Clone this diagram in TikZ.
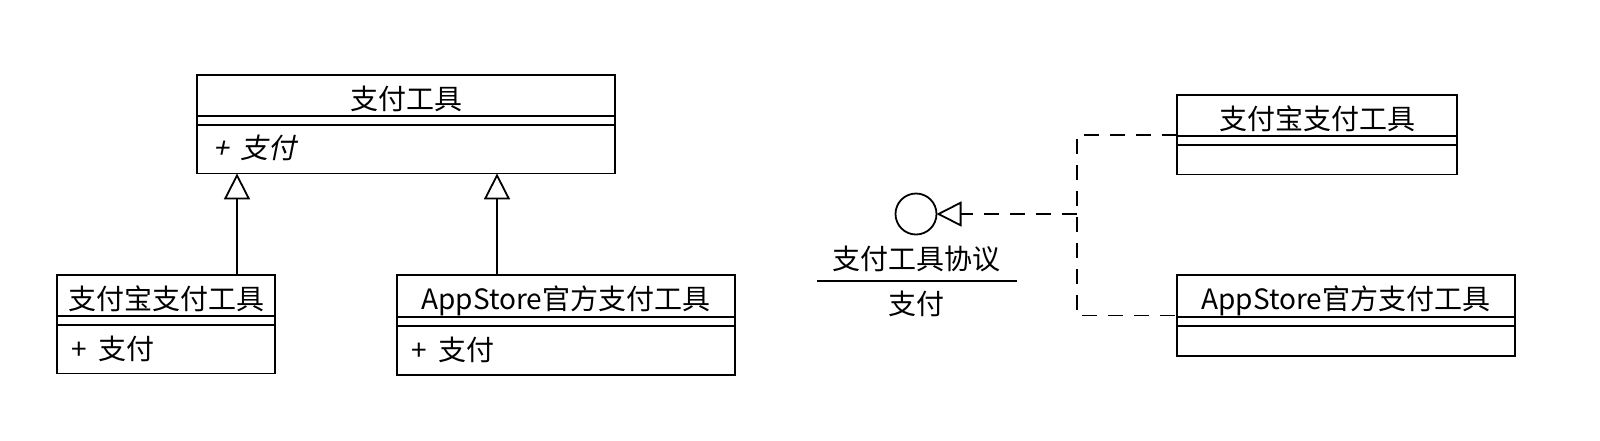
\documentclass[tikz,border=0pt]{standalone}
\usepackage{fontspec}
\newfontfamily\cjk{Noto Sans CJK SC}
\newfontfamily\cjkit[FakeSlant=0.2]{Noto Sans CJK SC}
\usepackage{tikz}
\usetikzlibrary{calc}
\usetikzlibrary{shapes}
\usetikzlibrary{arrows.meta}

\tikzset{
  umlclass/.style={draw, line width=1.8pt, rectangle split, rectangle split parts=3,
    inner sep=0pt, outer sep=0pt, anchor=north west, font=\cjk\fontsize{28}{32}\selectfont},
  inherit/.style={line width=1.8pt, -{Triangle[open, length=26pt, width=26pt]}},
  realize/.style={line width=1.8pt, dash pattern=on 15pt off 11pt},
  label/.style={font=\cjk\fontsize{28}{32}\selectfont, inner sep=0pt}
}

\begin{document}
\begin{tikzpicture}[x=1pt, y=-1pt]
\useasboundingbox (0,0) rectangle (1600,440);
% class hierarchy
\node[umlclass] (tool) at (197,75) {\makebox[418pt]{\rule[-5pt]{0pt}{39pt}支付工具}
  \nodepart{two}\rule{0pt}{7pt}
  \nodepart{three}\makebox[418pt][l]{\rule[-14pt]{0pt}{47pt}\hspace{16pt}{\cjkit +\hspace{6pt} 支付}}};
\node[umlclass] (alipay) at (57,275) {\makebox[218pt]{\rule[-5pt]{0pt}{39pt}支付宝支付工具}
  \nodepart{two}\rule{0pt}{7pt}
  \nodepart{three}\makebox[218pt][l]{\rule[-13pt]{0pt}{47pt}\hspace{14pt}+\hspace{6pt} 支付}};
\node[umlclass] (appstore) at (397,275) {\makebox[338pt]{\rule[-5pt]{0pt}{39pt}AppStore官方支付工具}
  \nodepart{two}\rule{0pt}{7pt}
  \nodepart{three}\makebox[338pt][l]{\rule[-13pt]{0pt}{47pt}\hspace{14pt}+\hspace{6pt} 支付}};
\coordinate (gen_1) at ($(tool.south west)+(40,0)$);
\coordinate (gen_2) at ($(tool.south west)+(300,0)$);
\draw[inherit] (alipay.north -| gen_1) -- (gen_1);
\draw[inherit] (appstore.north -| gen_2) -- (gen_2);

% protocol
\node[draw, circle, line width=1.8pt, minimum size=41pt, inner sep=0pt, outer sep=0pt] (proto) at (916,214) {};
\node[label] (proto_name) at (916,259) {支付工具协议};
\node[label] (proto_op) at (916,304) {支付};
\draw[line width=1.8pt] (817,281) -- (1017,281);
\node[umlclass] (alipay_2) at (1177,95) {\makebox[280pt]{\rule[-5pt]{0pt}{39pt}支付宝支付工具}
  \nodepart{two}\rule{0pt}{7pt}
  \nodepart{three}\rule{0pt}{28pt}};
\node[umlclass] (appstore_2) at (1177,275) {\makebox[338pt]{\rule[-5pt]{0pt}{39pt}AppStore官方支付工具}
  \nodepart{two}\rule{0pt}{7pt}
  \nodepart{three}\rule{0pt}{28pt}};
\coordinate (join) at (1077,214);
\draw[realize] (alipay_2.west) -| (join) |- (appstore_2.west);
\draw[realize, -{Triangle[open, length=25pt, width=25pt]}] (join) -- (proto.east);
\end{tikzpicture}
\end{document}
